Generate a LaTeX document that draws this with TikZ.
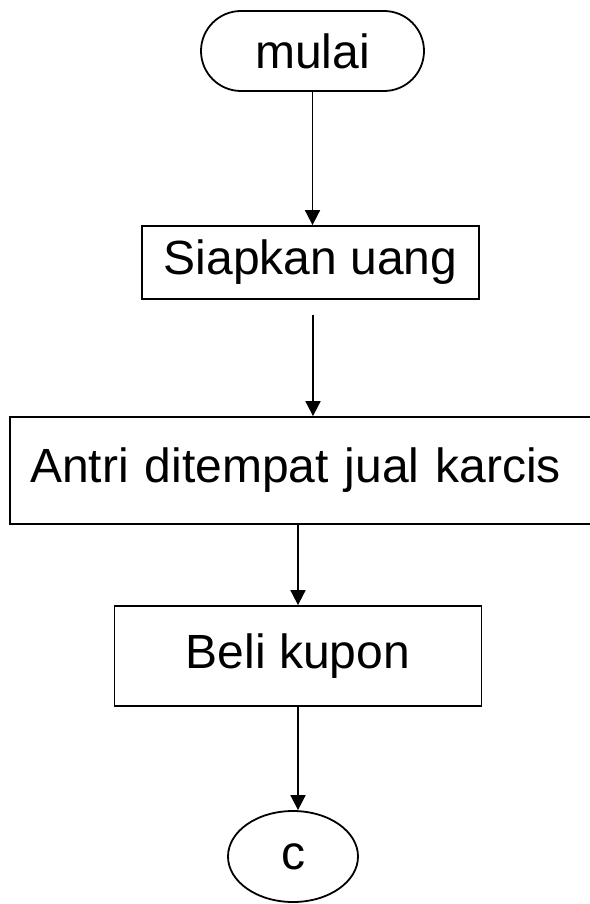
\documentclass[tikz,border=0pt]{standalone}
\usepackage{fontspec}
\setmainfont{Liberation Sans}
\usetikzlibrary{arrows.meta,shapes.geometric}
\begin{document}
\begin{tikzpicture}[x=1pt,y=-1pt,
  every node/.style={font=\fontsize{48}{56}\selectfont, inner sep=0pt},
  line/.style={line width=1.8pt},
  terminal/.style={line, draw, rectangle, rounded corners=40pt},
  process/.style={line, draw, rectangle},
  connector/.style={line, draw, ellipse},
  arr/.style={line, -{Triangle[length=15pt,width=15pt]}}]
  \useasboundingbox (0,0) rectangle (589,904);
  % flow steps
  \node[terminal, minimum width=223pt, minimum height=80pt] (mulai) at (312.5,51) {mulai};
  \node[process, minimum width=337pt, minimum height=73pt] (siapkan) at (310.5,262.5) {Siapkan uang};
  \node[process, minimum height=107pt, inner xsep=20pt, text width=560pt, align=left] (antri) at (310,470.5) {Antri ditempat jual karcis};
  \node[process, minimum width=367pt, minimum height=100pt] (beli) at (298,656) {Beli kupon};
  \node[connector, minimum width=130pt, minimum height=91pt] (c) at (293,856.5) {\raisebox{-5pt}{c}};
  % connectors
  \coordinate (gap) at (313,315);
  \draw[arr] (mulai.south) -- (mulai.south |- siapkan.north);
  \draw[arr] (gap) -- (gap |- antri.north);
  \draw[arr] (beli.north |- antri.south) -- (beli.north);
  \draw[arr] (beli.south) -- (beli.south |- c.north);
\end{tikzpicture}
\end{document}
